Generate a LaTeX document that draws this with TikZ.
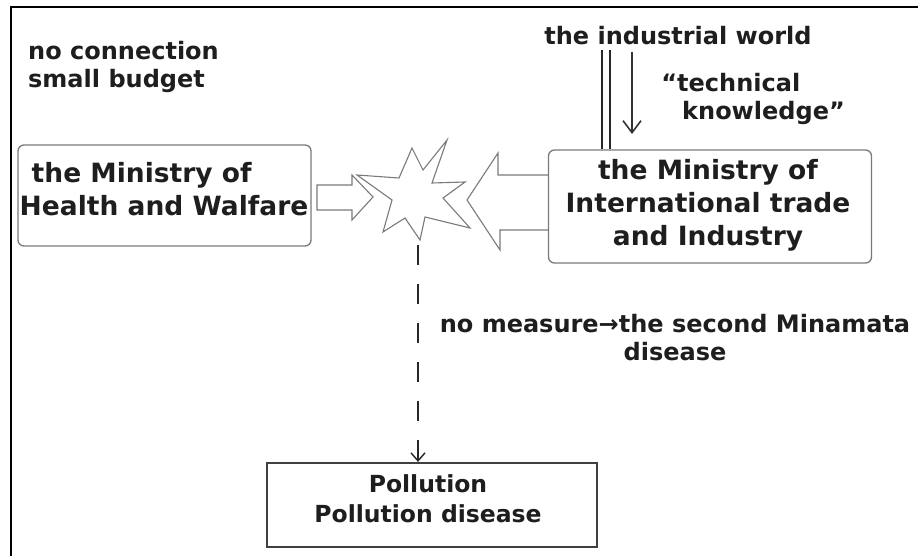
\documentclass[tikz,border=0pt]{standalone}
\usepackage{fontspec}
\setmainfont{DejaVu Sans}
\usetikzlibrary{arrows.meta}
\definecolor{ink}{HTML}{1E1E1E}
\definecolor{edge}{HTML}{7A7A7A}
\begin{document}
\begin{tikzpicture}[x=1pt,y=-1pt,
  lbl/.style={font=\bfseries\fontsize{24}{28}\selectfont, text=ink, inner sep=0pt, align=#1},
  lbl/.default=center,
  bigtxt/.style={font=\bfseries\fontsize{26.5}{33}\selectfont, text=ink, inner sep=0pt, align=#1},
  bigtxt/.default=center,
  ministry/.style={draw=edge, line width=1.3pt, rounded corners=6pt, inner sep=0pt},
  resultbox/.style={draw=black!75, line width=2.2pt, inner sep=0pt},
  resulttxt/.style={font=\bfseries\fontsize{23.5}{30}\selectfont, text=ink, inner sep=0pt, align=center},
  outline/.style={draw=edge, line width=1.1pt, line join=miter},
  link/.style={draw=black!85, line width=2.6pt},
  flow/.style={draw=black!80, line width=1.6pt, -{Straight Barb[length=12pt,width=18pt,line width=1.6pt]}},
  dashflow/.style={draw=black!85, line width=2.5pt, dash pattern=on 20pt off 19pt, -{Straight Barb[length=8pt,width=14pt,line width=1.4pt]}}
]
\useasboundingbox (0,0) rectangle (918,556);
\fill[white] (0,0) rectangle (918,556);
\draw[line width=2.2pt] (11,556) -- (11,7) -- (918,7);

% labels
\node[lbl=left, anchor=west] (nc) at (28,66.5) {no connection\\small budget};
\node[lbl, anchor=base] (iw) at (678,45) {the industrial world};
\node[lbl=left, anchor=west] (tk) at (677,99) {\llap{“}technical\\\hspace*{5pt}knowledge”};
\node[lbl] (nm) at (675,338) {no measure→the second Minamata\\disease};

% boxes
\node[ministry, minimum width=293pt, minimum height=101pt] (mhw) at (164.5,195.5) {};
\node[bigtxt=left] (mhwt) at (164,189) {\hspace*{12pt}the Ministry of\\Health and Walfare};
\node[ministry, minimum width=323pt, minimum height=113pt] (mit) at (710,206.5) {};
\node[bigtxt] (mitt) at (708,205) {the Ministry of\\International trade\\and Industry};
\node[resultbox, minimum width=330pt, minimum height=84pt] (pol) at (432,505) {};
\node[resulttxt] (polt) at (428,499) {Pollution\\Pollution disease};

% block arrows
\draw[outline] (317,185) -- (352,185) -- (352,175) -- (373,197) -- (352,220) -- (352,210) -- (317,210) -- cycle;
\draw[outline] (mit.west |- 0,175) -- (498,175) -- (498,153) -- (467,200) -- (500,250) -- (500,230) -- (mit.west |- 0,230);

% collision star
\draw[outline] (357,175) -- (399,178) -- (412,148) -- (423,170) -- (447,140) -- (432,183)
  -- (465,182) -- (443,198) -- (470,228) -- (425,217) -- (420,240) -- (405,218) -- (383,232) -- (392,200) -- cycle;
\coordinate (boom) at (418,245);

% connectors
\coordinate (d1) at (602,50);
\coordinate (d2) at (610,50);
\coordinate (d3) at (632,52);
\draw[link] (d1) -- (d1 |- mit.north);
\draw[link] (d2) -- (d2 |- mit.north);
\draw[flow] (d3) -- (632,134);
\draw[dashflow] (boom) -- (boom |- pol.north);
\end{tikzpicture}
\end{document}
